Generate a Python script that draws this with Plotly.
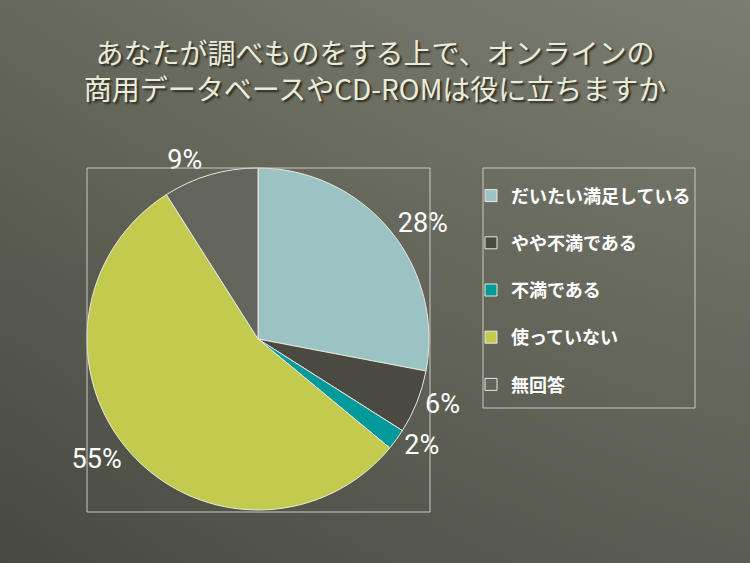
import plotly.graph_objects as go

# survey answers (percent)
labels = ['だいたい満足している', 'やや不満である', '不満である', '使っていない', '無回答']
values = [28, 6, 2, 55, 9]
colors = ['#9cc3c4', '#4b4a40', '#009a9a', '#c3cb4f', '#64655a']

title = 'あなたが調べものをする上で、オンラインの<br>商用データベースやCD-ROMは役に立ちますか'

W, H = 750, 563
# pie square in pixels (left, top, right, bottom)
px0, py0, px1, py1 = 87, 168, 429, 510
# legend box in pixels
lx0, ly0, lx1, ly1 = 483, 168, 695, 408

fig = go.Figure()

# slide background: dark olive gradient
box_x = [0, 1, 1, 0, 0]
box_y = [0, 0, 1, 1, 0]
fig.add_trace(go.Scatter(x=box_x, y=box_y, fill='toself', mode='none',
                         fillgradient=dict(type='vertical',
                                           colorscale=[[0, '#4f5045'], [1, '#727366']]),
                         hoverinfo='skip', showlegend=False))
fig.add_trace(go.Scatter(x=box_x, y=box_y, fill='toself', mode='none',
                         fillgradient=dict(type='horizontal',
                                           colorscale=[[0, 'rgba(0,0,0,0.10)'],
                                                       [1, 'rgba(255,255,255,0.07)']]),
                         hoverinfo='skip', showlegend=False))

legend_labels = ['<span style="font-size:18px;baseline-shift:6px"><b>%s</b></span>' % s
                 for s in labels]

fig.add_trace(go.Pie(
    labels=legend_labels,
    values=values,
    sort=False,
    direction='clockwise',
    rotation=0,
    marker=dict(colors=colors, line=dict(color='#e8e8e0', width=1)),
    textinfo='percent',
    texttemplate='%{percent:.0%}',
    textposition='outside',
    outsidetextfont=dict(color='white', size=27, family='Roboto'),
    domain=dict(x=[px0 / W, px1 / W], y=[1 - py1 / H, 1 - py0 / H]),
    hoverinfo='skip',
))

# frame around the plot area and around the legend
fig.add_shape(type='rect', xref='paper', yref='paper',
              x0=px0 / W, x1=(px1 + 1) / W, y0=1 - (py1 + 2) / H, y1=1 - py0 / H,
              line=dict(color='#c9c9c0', width=1))
fig.add_shape(type='rect', xref='paper', yref='paper',
              x0=lx0 / W, x1=lx1 / W, y0=1 - ly1 / H, y1=1 - ly0 / H,
              line=dict(color='#c9c9c0', width=1))

fig.update_xaxes(visible=False, range=[0, 1], fixedrange=True)
fig.update_yaxes(visible=False, range=[0, 1], fixedrange=True)

fig.update_layout(
    width=W, height=H,
    margin=dict(l=0, r=0, t=0, b=0),
    paper_bgcolor='#606154',
    plot_bgcolor='rgba(0,0,0,0)',
    title=dict(text=title, x=0.5, xanchor='center', y=1 - 64 / H, yanchor='middle',
               font=dict(family='Noto Sans CJK JP', size=28, color='#ecebd8',
                         shadow='2px 2px 2px #2b2b24')),
    legend=dict(x=(lx0 - 12) / W, y=1 - (ly0 - 1) / H, xanchor='left', yanchor='top',
                bgcolor='rgba(0,0,0,0)', borderwidth=0,
                font=dict(family='Noto Sans CJK JP', size=34, color='white'),
                traceorder='normal'),
    font=dict(family='Noto Sans CJK JP', color='white'),
)

fig.write_html('out.html', config={'displayModeBar': False},
               post_script="document.body.style.margin='0';")
